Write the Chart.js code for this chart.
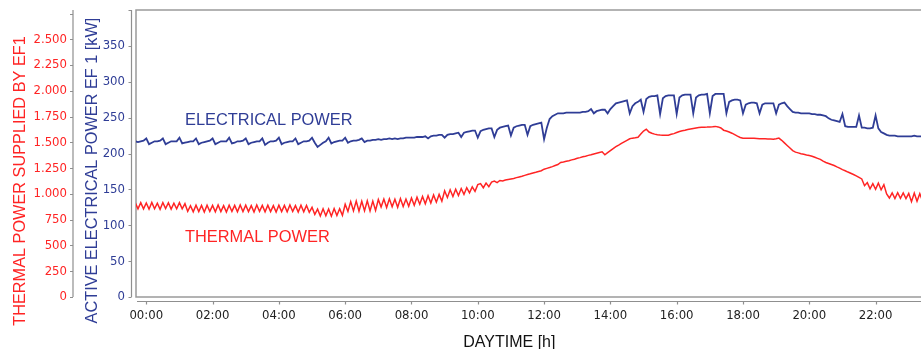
<!DOCTYPE html>
<html><head><meta charset="utf-8">
<script src="https://cdn.jsdelivr.net/npm/chart.js@4/dist/chart.umd.min.js"></script>
<style>html,body{margin:0;padding:0;background:#fff;overflow:hidden;}</style>
</head><body>
<canvas id="c" width="921" height="349" style="display:block;width:921px;height:349px"></canvas>
<script>
// sampling grid: first sample at -00:20, one sample every 5 minutes
const startHour = -20 / 60;
const stepHours = 5 / 60;

// ACTIVE ELECTRICAL POWER EF 1 [kW] (blue axis)
const electricalPower = [
  217, 216, 217, 218,
  221, 213, 215, 217, 217, 218, 221, 213, 215, 217, 217, 217,
  222, 214, 215, 216, 217, 217, 221, 213, 215, 216, 217, 218,
  221, 213, 215, 217, 217, 217, 222, 214, 215, 217, 217, 218,
  221, 213, 215, 216, 217, 217, 221, 212, 215, 217, 217, 218,
  222, 213, 215, 216, 217, 217, 221, 213, 215, 217, 217, 218,
  222, 215, 209, 212, 215, 217, 222, 214, 216, 217, 218, 218,
  222, 215, 217, 218, 218, 219, 221, 216, 218, 218, 219, 219,
  220, 219, 220, 220, 221, 220, 221, 220, 221, 221, 222, 222,
  222, 222, 223, 223, 223, 224, 221, 224, 225, 225, 226, 226,
  222, 226, 227, 227, 228, 229, 223, 229, 230, 231, 232, 232,
  222, 231, 233, 234, 235, 235, 223, 233, 236, 237, 238, 239,
  225, 236, 238, 239, 240, 240, 226, 238, 240, 241, 242, 243,
  220, 236, 248, 252, 254, 256, 256, 256, 257, 257, 257, 257,
  257, 257, 258, 258, 259, 262, 256, 259, 260, 261, 261, 256,
  262, 266, 270, 271, 272, 273, 274, 256, 266, 270, 272, 275,
  258, 276, 279, 280, 280, 281, 255, 277, 280, 281, 281, 281,
  255, 278, 281, 282, 282, 282, 256, 278, 281, 282, 282, 283,
  256, 280, 283, 283, 283, 283, 256, 272, 274, 275, 275, 274,
  256, 268, 270, 271, 271, 270, 256, 268, 270, 270, 270, 270,
  256, 268, 270, 271, 266, 262, 258, 257, 257, 256, 256, 256,
  256, 255, 255, 254, 254, 253, 252, 249, 247, 246, 245, 244,
  255, 238, 237, 237, 237, 237, 253, 236, 236, 235, 235, 236,
  253, 235, 230, 228, 226, 225, 225, 225, 224, 224, 224, 224,
  224, 224, 225, 224, 224, 224
];

// THERMAL POWER SUPPLIED BY EF1 (red axis)
const thermalPower = [
  915, 855, 915, 855,
  912, 852, 918, 856, 910, 850, 916, 858, 914, 852, 910, 856,
  915, 855, 905, 830, 885, 826, 890, 828, 888, 824, 890, 830,
  888, 826, 892, 828, 886, 824, 890, 830, 888, 826, 892, 828,
  890, 828, 886, 824, 892, 830, 888, 826, 890, 828, 886, 824,
  890, 828, 888, 826, 892, 830, 886, 824, 890, 826, 888, 822,
  870, 800, 852, 786, 856, 788, 854, 784, 858, 790, 856, 792,
  900, 830, 925, 835, 930, 832, 928, 836, 932, 834, 930, 840,
  945, 872, 950, 868, 952, 875, 948, 870, 955, 878, 950, 880,
  960, 890, 968, 900, 975, 905, 982, 912, 990, 920, 995, 930,
  1030, 965, 1040, 975, 1045, 985, 1052, 995, 1060, 1010, 1068, 1025,
  1090, 1100, 1060, 1105, 1070, 1115, 1125, 1110, 1130, 1125, 1135, 1140,
  1145, 1150, 1158, 1165, 1172, 1180, 1188, 1195, 1203, 1210, 1218, 1225,
  1240, 1248, 1256, 1265, 1275, 1285, 1305, 1310, 1316, 1322, 1330, 1337,
  1345, 1352, 1360, 1366, 1374, 1380, 1388, 1395, 1402, 1408, 1380, 1400,
  1420, 1440, 1458, 1473, 1490, 1505, 1520, 1535, 1541, 1545, 1550, 1580,
  1610, 1628, 1600, 1589, 1580, 1575, 1572, 1570, 1570, 1570, 1578, 1585,
  1595, 1605, 1612, 1618, 1625, 1630, 1635, 1640, 1644, 1647, 1647, 1648,
  1650, 1652, 1655, 1650, 1640, 1618, 1610, 1600, 1589, 1575, 1560, 1548,
  1541, 1540, 1540, 1541, 1540, 1538, 1536, 1535, 1534, 1533, 1532, 1531,
  1535, 1541, 1520, 1495, 1470, 1445, 1420, 1405, 1398, 1390, 1385, 1378,
  1372, 1365, 1355, 1345, 1335, 1318, 1305, 1295, 1285, 1275, 1262, 1250,
  1235, 1225, 1212, 1200, 1188, 1175, 1160, 1145, 1080, 1110, 1050, 1100,
  1045, 1105, 1040, 1090, 1000, 960, 1010, 955, 1012, 958, 1010, 955,
  1005, 925, 1008, 928, 1002, 930
];

const timeTicks = [0, 2, 4, 6, 8, 10, 12, 14, 16, 18, 20, 22];
const timeTickLabels = ['00:00', '02:00', '04:00', '06:00', '08:00', '10:00', '12:00', '14:00', '16:00', '18:00', '20:00', '22:00'];
const electricalTicks = [0, 50, 100, 150, 200, 250, 300, 350, 400];
const electricalTickLabels = ['0', '50', '100', '150', '200', '250', '300', '350', ''];
const thermalTicks = [0, 250, 500, 750, 1000, 1250, 1500, 1750, 2000, 2250, 2500, 2750];
const thermalTickLabels = ['0', '250', '500', '750', '1.000', '1.250', '1.500', '1.750', '2.000', '2.250', '2.500', ''];

const seriesNames = ['ELECTRICAL POWER', 'THERMAL POWER'];
const axisTitles = { x: 'DAYTIME [h]', electrical: 'ACTIVE ELECTRICAL POWER EF 1 [kW]', thermal: 'THERMAL POWER SUPPLIED BY EF1' };

const BLUE = '#2f3d96';
const RED = '#ff2424';
const AXIS_GRAY = '#8f8f8f';
const TICK_FONT = { family: '"DejaVu Sans Condensed", "DejaVu Sans", sans-serif', size: 13 };
const TITLE_FONT = '16.3px "Liberation Sans", Arial, sans-serif';

const toPoints = arr => arr.map((v, i) => ({ x: startHour + i * stepHours, y: v }));
const noPad = s => { s.paddingTop = 0; s.paddingBottom = 0; s.paddingLeft = 0; s.paddingRight = 0; };

const decorPlugin = {
  id: 'decor',
  beforeDatasetsDraw(chart) {
    const { ctx, chartArea: a, scales } = chart;
    ctx.save();
    ctx.strokeStyle = '#9a9a9a';
    ctx.lineWidth = 1.5;
    ctx.beginPath();
    ctx.moveTo(a.right + 2, a.top);
    ctx.lineTo(a.left, a.top);
    ctx.lineTo(a.left, a.bottom);
    ctx.lineTo(a.right + 2, a.bottom);
    ctx.stroke();

    ctx.strokeStyle = AXIS_GRAY;
    ctx.lineWidth = 1.2;
    // x axis line below the frame
    const xl = a.bottom + 4.5;
    ctx.beginPath();
    ctx.moveTo(a.left + 1, xl); ctx.lineTo(a.right + 2, xl);
    timeTicks.forEach(t => {
      const px = Math.round(scales.x.getPixelForValue(t)) + 0.5;
      ctx.moveTo(px, xl); ctx.lineTo(px, xl + 3);
    });
    ctx.stroke();
    // electrical axis line
    const bx = a.left - 4.5;
    ctx.beginPath();
    ctx.moveTo(bx, a.top); ctx.lineTo(bx, a.bottom);
    electricalTicks.forEach(v => {
      const py = Math.round(scales.yE.getPixelForValue(v)) + 0.5;
      ctx.moveTo(bx - 3, py); ctx.lineTo(bx, py);
    });
    ctx.stroke();
    // thermal axis line
    const rx = scales.yT.right - 1;
    ctx.beginPath();
    ctx.moveTo(rx, a.top); ctx.lineTo(rx, a.bottom);
    thermalTicks.forEach(v => {
      const py = Math.round(scales.yT.getPixelForValue(v)) + 0.5;
      ctx.moveTo(rx - 3, py); ctx.lineTo(rx, py);
    });
    ctx.stroke();
    ctx.restore();
  },
  afterDraw(chart) {
    const { ctx } = chart;
    ctx.save();
    ctx.font = TITLE_FONT;
    ctx.textBaseline = 'alphabetic';
    // rotated axis titles
    ctx.textAlign = 'center';
    ctx.fillStyle = RED;
    ctx.save(); ctx.translate(25.4, 181); ctx.rotate(-Math.PI / 2);
    ctx.fillText(axisTitles.thermal, 0, 0); ctx.restore();
    ctx.fillStyle = BLUE;
    ctx.save(); ctx.translate(96.9, 170.5); ctx.rotate(-Math.PI / 2);
    ctx.fillText(axisTitles.electrical, 0, 0); ctx.restore();
    // x title
    ctx.fillStyle = '#111';
    ctx.font = '16px "Liberation Sans", Arial, sans-serif';
    ctx.textAlign = 'left';
    ctx.fillText(axisTitles.x, 463.3, 346.5);
    // series labels inside plot
    ctx.font = '16.4px "Liberation Sans", Arial, sans-serif';
    ctx.fillStyle = BLUE;
    ctx.fillText(seriesNames[0], 185, 125);
    ctx.fillStyle = RED;
    ctx.fillText(seriesNames[1], 185, 241.7);
    ctx.restore();
  }
};

new Chart(document.getElementById('c'), {
  type: 'line',
  data: {
    datasets: [
      { label: seriesNames[0], data: toPoints(electricalPower), yAxisID: 'yE', borderColor: BLUE, borderWidth: 1.8, pointRadius: 0, tension: 0, fill: false },
      { label: seriesNames[1], data: toPoints(thermalPower), yAxisID: 'yT', borderColor: RED, borderWidth: 1.5, pointRadius: 0, tension: 0, fill: false }
    ]
  },
  options: {
    responsive: false,
    animation: false,
    devicePixelRatio: 1,
    layout: { padding: { top: 10, left: 0, right: 0, bottom: 0 } },
    plugins: { legend: { display: false }, tooltip: { enabled: false } },
    scales: {
      x: {
        type: 'linear', position: 'bottom', min: -0.31, max: 23.37,
        afterBuildTicks: s => { s.ticks = timeTicks.map(v => ({ value: v })); },
        afterFit: s => { s.height = 52; noPad(s); },
        ticks: { autoSkip: false, maxRotation: 0, padding: 11, color: '#222', font: TICK_FONT,
          callback: v => timeTickLabels[timeTicks.indexOf(v)] },
        grid: { display: false, drawTicks: false },
        border: { display: false }
      },
      yE: {
        type: 'linear', position: 'left', weight: 1, min: 0, max: 400,
        afterBuildTicks: s => { s.ticks = electricalTicks.map(v => ({ value: v })); },
        afterFit: s => { s.width = 62; noPad(s); },
        ticks: { padding: 11, color: BLUE, font: TICK_FONT,
          callback: v => electricalTickLabels[electricalTicks.indexOf(v)] },
        grid: { display: false, drawTicks: false },
        border: { display: false }
      },
      yT: {
        type: 'linear', position: 'left', weight: 2, min: 0, max: 2784,
        afterBuildTicks: s => { s.ticks = thermalTicks.map(v => ({ value: v })); },
        afterFit: s => { s.width = 74; noPad(s); },
        ticks: { padding: 7, color: RED, font: TICK_FONT,
          callback: v => thermalTickLabels[thermalTicks.indexOf(v)] },
        grid: { display: false, drawTicks: false },
        border: { display: false }
      }
    }
  },
  plugins: [decorPlugin]
});
</script>
</body></html>
